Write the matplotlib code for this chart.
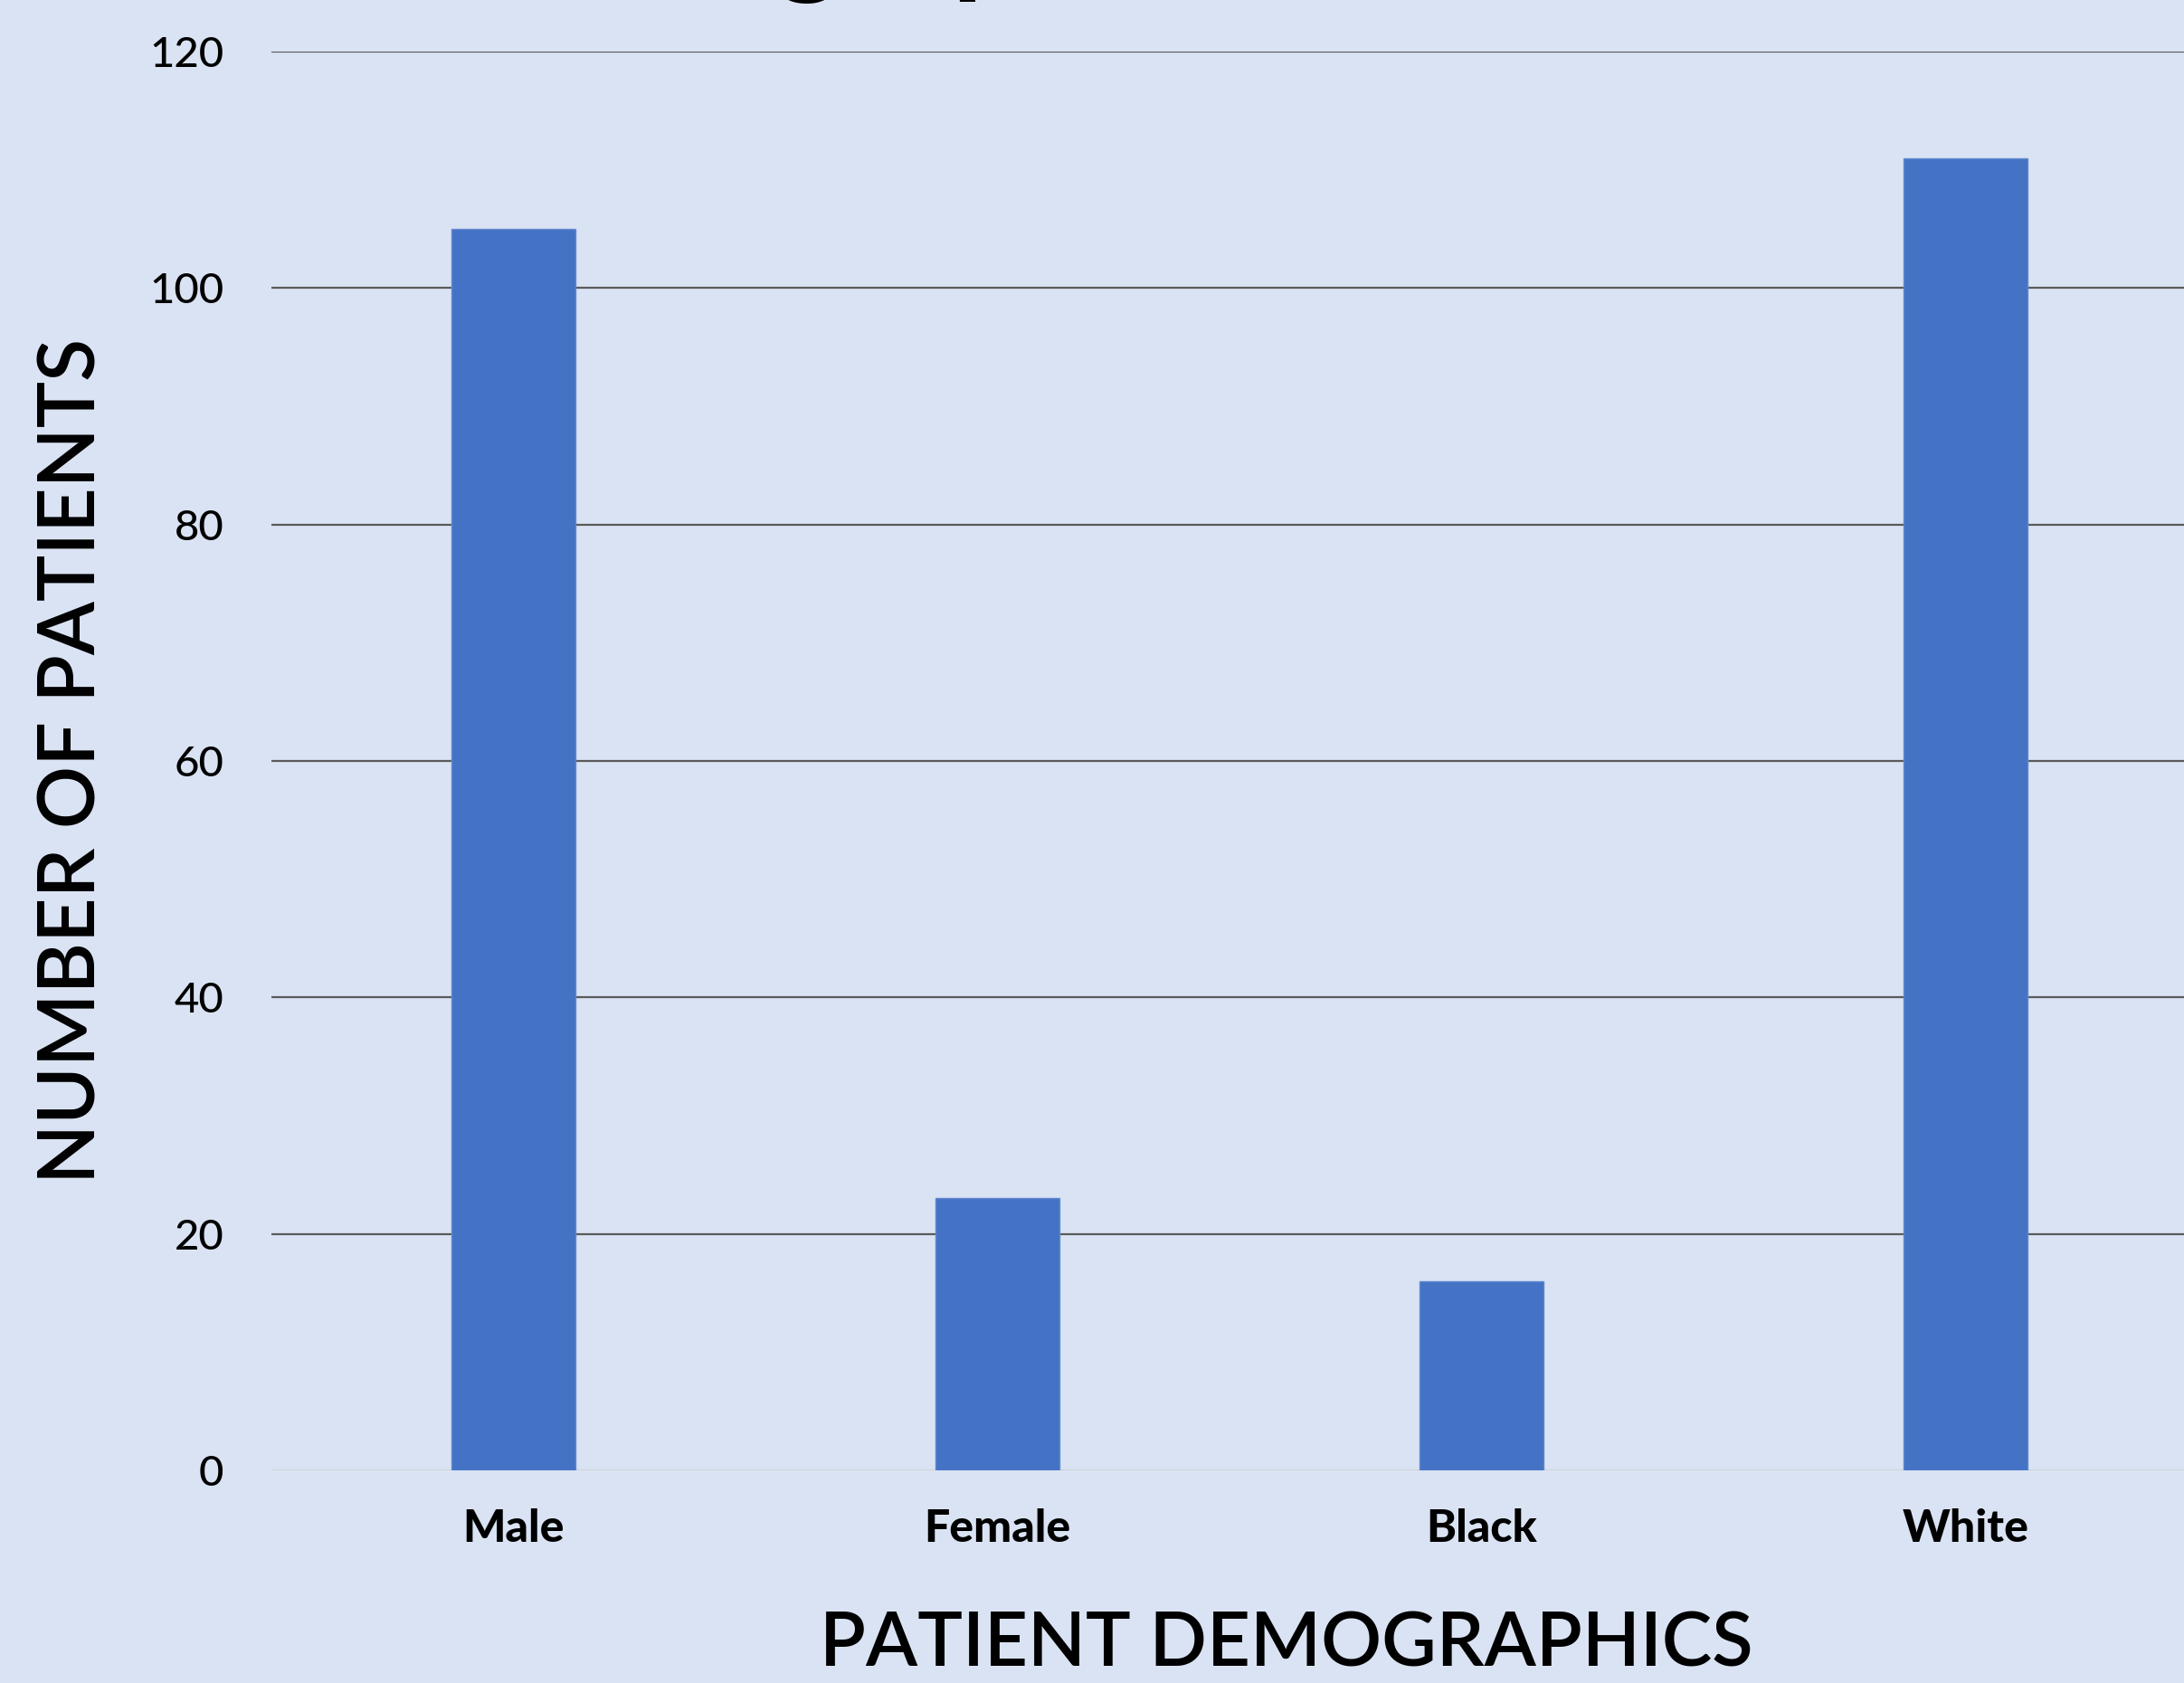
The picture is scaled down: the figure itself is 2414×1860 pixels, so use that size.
import matplotlib
matplotlib.use("Agg")
import matplotlib.pyplot as plt
import numpy as np

plt.rcParams['font.family'] = ['Lato', 'DejaVu Sans']

categories = ["Male", "Female", "Black", "White"]
patients = [105, 23, 16, 111]
y_ticks = [0, 20, 40, 60, 80, 100, 120]

bg = "#DAE3F3"
bar_color = "#4472C4"

fig = plt.figure(figsize=(24.14, 18.60), dpi=100, facecolor=bg)
ax = fig.add_axes([300 / 2414, 235 / 1860, 2140 / 2414, 1568 / 1860])
ax.set_facecolor(bg)

x = np.arange(len(categories))
ax.bar(x, patients, width=0.256, color=bar_color, edgecolor="#6088D0", linewidth=1, zorder=3)

ax.set_xlim(-0.5, len(categories) - 0.5)
ax.set_ylim(0, 120)
ax.set_yticks(y_ticks)
ax.set_yticklabels([str(t) for t in y_ticks], fontsize=34, fontweight="medium")
ax.set_xticks(x)
ax.set_xticklabels(categories, fontsize=36, fontweight="black")
ax.tick_params(axis="both", length=0)
ax.tick_params(axis="y", pad=38)
ax.tick_params(axis="x", pad=30)

ax.grid(axis="y", color="#5A5A5A", linewidth=1.6, zorder=0)
ax.set_axisbelow(True)
ax.yaxis.get_gridlines()[0].set_color("#D0D4DA")
for s in ax.spines.values():
    s.set_visible(False)

ax.set_ylabel("NUMBER OF PATIENTS", fontsize=62, fontweight="semibold", labelpad=32)
ax.set_xlabel("PATIENT DEMOGRAPHICS", fontsize=60, fontweight="semibold")
ax.xaxis.set_label_coords(0.524, -0.099)

# title sits mostly above the top edge; only descenders show
fig.text(0.0, 1.0115, "Patient Demographics", ha="left", va="baseline",
         fontsize=100, fontweight="bold")

fig.savefig("out.png", dpi=100, facecolor=bg)
